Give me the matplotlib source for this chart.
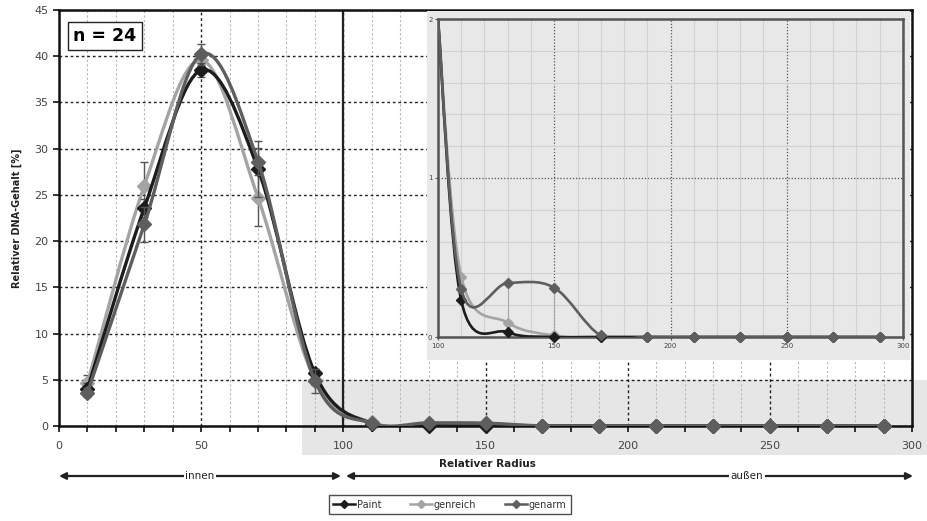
import numpy as np
import matplotlib
matplotlib.use("Agg")
import matplotlib.pyplot as plt
from matplotlib.path import Path
from matplotlib.patches import PathPatch, Rectangle
from matplotlib.lines import Line2D
from matplotlib.ticker import MultipleLocator

# ---------------- data ----------------
radius = [10, 30, 50, 70, 90, 110, 130, 150, 170, 190, 210, 230, 250, 270, 290]
paint = [4.0, 23.6, 38.5, 27.8, 5.7, 0.23, 0.03, 0.0, 0.0, 0.0, 0.0, 0.0, 0.0, 0.0, 0.0]
genreich = [4.6, 26.0, 39.6, 24.7, 5.0, 0.38, 0.09, 0.01, 0.0, 0.0, 0.0, 0.0, 0.0, 0.0, 0.0]
genarm = [3.6, 21.8, 40.2, 28.6, 4.9, 0.30, 0.34, 0.31, 0.01, 0.0, 0.0, 0.0, 0.0, 0.0, 0.0]
err_paint = [0.6, 1.0, 0.8, 3.0, 0.5, 0, 0, 0, 0, 0, 0, 0, 0, 0, 0]
err_genreich = [0.9, 2.6, 1.0, 3.1, 0.6, 0, 0, 0, 0, 0, 0, 0, 0, 0, 0]
err_genarm = [0.5, 1.9, 1.1, 1.5, 1.3, 0, 0, 0, 0, 0, 0, 0, 0, 0, 0]

# zoomed inset (outer region)
inset_radius = [100, 110, 130, 150, 170, 190, 210, 230, 250, 270, 290]
inset_paint = [2.0, 0.23, 0.03, 0.0, 0.0, 0.0, 0.0, 0.0, 0.0, 0.0, 0.0]
inset_genreich = [2.0, 0.38, 0.09, 0.01, 0.0, 0.0, 0.0, 0.0, 0.0, 0.0, 0.0]
inset_genarm = [2.0, 0.30, 0.34, 0.31, 0.01, 0.0, 0.0, 0.0, 0.0, 0.0, 0.0]
inset_err_genarm_low = [0, 0.0, 0.34, 0.31, 0, 0, 0, 0, 0, 0, 0]

series_names = ["Paint", "genreich", "genarm"]
series_colors = ["#1c1c1c", "#a4a4a4", "#5e5e5e"]

W, H = 927, 521


def fx(px):
    return px / W


def fy(py):
    return 1 - py / H


def smooth_path(x, y):
    pts = np.column_stack([np.asarray(x, float), np.asarray(y, float)])
    n = len(pts)
    verts = [pts[0]]
    codes = [Path.MOVETO]
    for i in range(n - 1):
        p0 = pts[i - 1] if i > 0 else pts[i]
        p1 = pts[i]
        p2 = pts[i + 1]
        p3 = pts[i + 2] if i + 2 < n else pts[i + 1]
        c1 = p1 + (p2 - p0) / 6.0
        c2 = p2 - (p3 - p1) / 6.0
        verts += [c1, c2, p2]
        codes += [Path.CURVE4] * 3
    return Path(verts, codes)


plt.rcParams['font.family'] = ['DejaVu Sans']
fig = plt.figure(figsize=(W / 100, H / 100), dpi=100)
fig.patch.set_facecolor("white")

# shaded zoom region (behind main axes)
fig.patches.append(Rectangle((fx(302), fy(455)), fx(927) - fx(302), fy(380) - fy(455),
                             transform=fig.transFigure, facecolor="#e6e6e6",
                             edgecolor="none", zorder=-10))

# ---------------- main axes ----------------
ax = fig.add_axes([fx(59), fy(426), fx(912) - fx(59), fy(10) - fy(426)])
ax.set_facecolor("none")
ax.set_xlim(0, 300)
ax.set_ylim(0, 45)
ax.xaxis.set_major_locator(MultipleLocator(50))
ax.xaxis.set_minor_locator(MultipleLocator(10))
ax.yaxis.set_major_locator(MultipleLocator(5))
ax.grid(True, which="major", axis="both", color="#222222", linestyle=(0, (2, 2)), linewidth=1.0, zorder=1)
ax.grid(True, which="minor", axis="x", color="#b8b8b8", linestyle=(0, (2, 2)), linewidth=0.8, zorder=1)
ax.set_axisbelow(True)
for s in ax.spines.values():
    s.set_linewidth(1.8)
    s.set_color("#111111")
ax.tick_params(axis="both", which="major", direction="out", length=4, width=1.2,
               labelsize=8, labelcolor="#444444", color="#111111")
ax.tick_params(axis="x", which="minor", direction="out", length=4, width=1.2, color="#111111")
ax.tick_params(axis="x", pad=7)
ax.axvline(100, color="#222222", linewidth=1.6, zorder=2)

main_data = [paint, genreich, genarm]
main_err = [err_paint, err_genreich, err_genarm]
zord = [5, 4, 6]
for vals, errs, col, z in zip(main_data, main_err, series_colors, zord):
    ax.add_patch(PathPatch(smooth_path(radius, vals), fill=False, edgecolor=col,
                           linewidth=2.4, zorder=z, capstyle="round"))
    ax.errorbar(radius, vals, yerr=errs, fmt="none", ecolor="#555555", elinewidth=1.0,
                capsize=3, capthick=1.0, zorder=z - 0.5)
    ax.plot(radius, vals, linestyle="none", marker="D", markersize=7,
            color=col, markeredgecolor=col, zorder=z + 0.1, clip_on=False)

ax.text(105 / 853 * 300 - (59 / 853 * 300) + 0.0, 0, "")
fig.text(fx(105), fy(36), "n = 24", fontsize=12.5, fontweight="bold", ha="center", va="center",
         bbox=dict(boxstyle="square,pad=0.3", facecolor="white", edgecolor="#222222", linewidth=1.0))

fig.text(fx(17), fy(218), "Relativer DNA-Gehalt [%]", rotation=90, ha="center", va="center",
         fontsize=7, fontweight="bold", color="#222222")
fig.text(fx(487), fy(464), "Relativer Radius", ha="center", va="center",
         fontsize=7.5, fontweight="bold", color="#222222")

# ---------------- inset background + inset axes ----------------
bg = fig.add_axes([fx(427), fy(360), fx(910) - fx(427), fy(11) - fy(360)])
bg.set_facecolor("#e9e9e9")
bg.set_xticks([])
bg.set_yticks([])
for s in bg.spines.values():
    s.set_visible(False)
bg.set_zorder(3)

ins = fig.add_axes([fx(438), fy(337), fx(903) - fx(438), fy(19) - fy(337)])
ins.set_zorder(4)
ins.set_facecolor("#e8e8e8")
ins.set_xlim(100, 300)
ins.set_ylim(0, 2)
ins.xaxis.set_major_locator(MultipleLocator(50))
ins.xaxis.set_minor_locator(MultipleLocator(10))
ins.yaxis.set_major_locator(MultipleLocator(1))
ins.yaxis.set_minor_locator(MultipleLocator(0.2))
ins.grid(True, which="minor", color="#d2d2d2", linewidth=0.8, linestyle="-")
ins.grid(True, which="major", color="#555555", linewidth=0.9, linestyle=(0, (1, 1.5)))
ins.set_axisbelow(True)
for s in ins.spines.values():
    s.set_linewidth(1.8)
    s.set_color("#555555")
ins.tick_params(axis="both", which="major", direction="out", length=2, width=0.8,
                labelsize=5, labelcolor="#444444", color="#555555", pad=2)
ins.tick_params(axis="both", which="minor", length=0)

inset_data = [inset_paint, inset_genreich, inset_genarm]
for vals, col, z in zip(inset_data, series_colors, zord):
    ins.add_patch(PathPatch(smooth_path(inset_radius, vals), fill=False, edgecolor=col,
                            linewidth=1.9, zorder=z))
    ins.plot(inset_radius[1:], vals[1:], linestyle="none", marker="D", markersize=5,
             color=col, markeredgecolor=col, zorder=z + 0.1, clip_on=False)
ins.errorbar(inset_radius, inset_genarm,
             yerr=[inset_err_genarm_low, [0] * len(inset_radius)],
             fmt="none", ecolor="#aaaaaa", elinewidth=0.8, capsize=0, zorder=3)

# ---------------- arrows (innen / außen) ----------------
ay = fy(476)
arrow_kw = dict(arrowstyle="-|>", color="#222222", lw=1.6, mutation_scale=10,
                shrinkA=0, shrinkB=0)
fig.add_artist(matplotlib.patches.FancyArrowPatch((fx(200), ay), (fx(59), ay),
                                                  transform=fig.transFigure, **arrow_kw))
fig.add_artist(matplotlib.patches.FancyArrowPatch((fx(200), ay), (fx(341), ay),
                                                  transform=fig.transFigure, **arrow_kw))
fig.add_artist(matplotlib.patches.FancyArrowPatch((fx(747), ay), (fx(346), ay),
                                                  transform=fig.transFigure, **arrow_kw))
fig.add_artist(matplotlib.patches.FancyArrowPatch((fx(747), ay), (fx(913), ay),
                                                  transform=fig.transFigure, **arrow_kw))
fig.text(fx(200), ay, "innen", ha="center", va="center", fontsize=7.5, color="#222222",
         bbox=dict(boxstyle="square,pad=0.15", facecolor="white", edgecolor="none"), zorder=10)
fig.text(fx(747), ay, "außen", ha="center", va="center", fontsize=7.5, color="#222222",
         bbox=dict(boxstyle="square,pad=0.15", facecolor="white", edgecolor="none"), zorder=10)

# ---------------- legend ----------------
handles = [Line2D([0], [0], color=c, lw=1.8, marker="D", markersize=4) for c in series_colors]
leg = fig.legend(handles, series_names, loc="center", ncol=3,
                 bbox_to_anchor=(fx(450), fy(504.5)), fontsize=7, frameon=True,
                 fancybox=False, edgecolor="#222222", handlelength=2.2, handletextpad=0.2,
                 columnspacing=3.0, borderpad=0.5, labelcolor="#333333")
leg.get_frame().set_linewidth(1.0)

fig.savefig("out.png", dpi=100)
